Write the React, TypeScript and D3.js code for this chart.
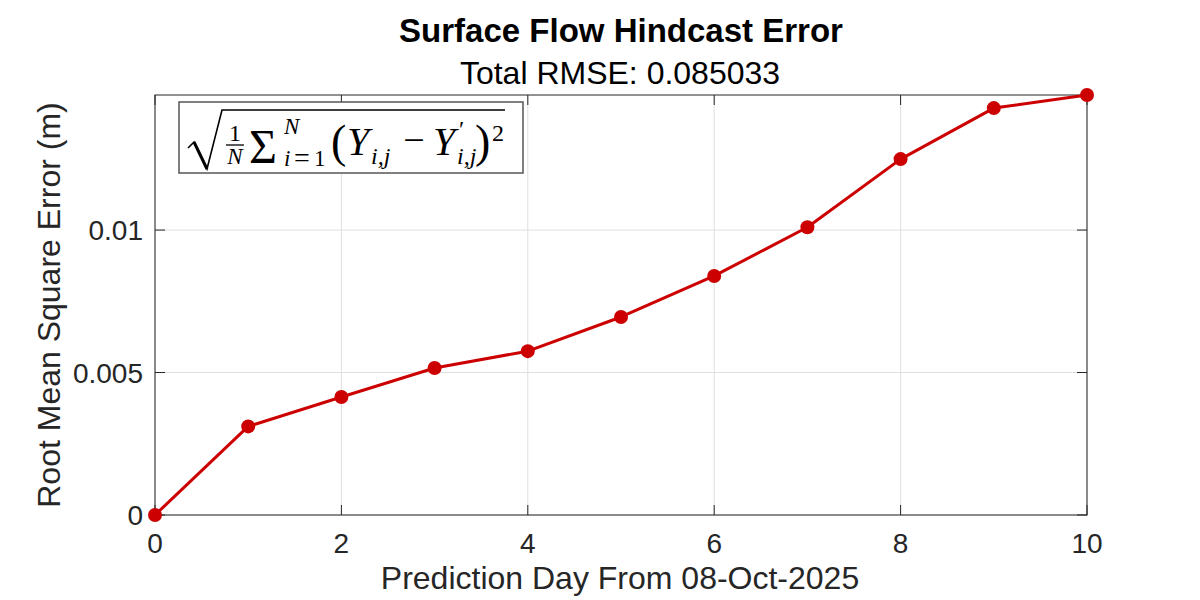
import React from "react";
import * as d3 from "d3";

const days = [0, 1, 2, 3, 4, 5, 6, 7, 8, 9, 10];
const rmse = [0, 0.00311, 0.00414, 0.00516, 0.00575, 0.00695, 0.00839, 0.0101, 0.01249, 0.01428, 0.01474];
const xTicks = [0, 2, 4, 6, 8, 10];
const yTicks = [0, 0.005, 0.01];
const yTickLabels = ["0", "0.005", "0.01"];
const titleText = "Surface Flow Hindcast Error";
const subtitleText = "Total RMSE: 0.085033";
const xLabelText = "Prediction Day From 08-Oct-2025";
const yLabelText = "Root Mean Square Error (m)";

const W = 1200, H = 600;
const L = 155, R = 1087, T = 95, B = 515;
const sans = "'Liberation Sans', Arial, Helvetica, sans-serif";
const serif = "'Liberation Serif', 'Times New Roman', serif";
const axisColor = "#262626";
const lineColor = "#cc0000";

export default function App() {
  const x = d3.scaleLinear().domain([0, 10]).range([L, R]);
  const y = d3.scaleLinear().domain([0, d3.max(rmse) as number]).range([B, T]);
  const line = d3.line<number>().x((_, i) => x(days[i])).y((d) => y(d));
  const pts = days.map((d, i) => [d, rmse[i]] as [number, number]);
  const tick = 10;

  return (
    <svg width={W} height={H} style={{ position: "absolute", left: 0, top: 0, background: "#fff" }}>
      <rect x={0} y={0} width={W} height={H} fill="#fff" />
      {/* grid */}
      {xTicks.map((t) => (
        <line key={"gx" + t} x1={x(t)} x2={x(t)} y1={T} y2={B} stroke="#dfdfdf" strokeWidth={1} />
      ))}
      {yTicks.map((t) => (
        <line key={"gy" + t} x1={L} x2={R} y1={y(t)} y2={y(t)} stroke="#dfdfdf" strokeWidth={1} />
      ))}
      {/* box */}
      <rect x={L} y={T} width={R - L} height={B - T} fill="none" stroke={axisColor} strokeWidth={1} />
      {xTicks.map((t) => (
        <g key={"tx" + t}>
          <line x1={x(t)} x2={x(t)} y1={B} y2={B - tick} stroke={axisColor} />
          <line x1={x(t)} x2={x(t)} y1={T} y2={T + tick} stroke={axisColor} />
          <text x={x(t)} y={553} textAnchor="middle" fontFamily={sans} fontSize={28} fill={axisColor}>{t}</text>
        </g>
      ))}
      {yTicks.map((t, i) => (
        <g key={"ty" + t}>
          <line x1={L} x2={L + tick} y1={y(t)} y2={y(t)} stroke={axisColor} />
          <line x1={R} x2={R - tick} y1={y(t)} y2={y(t)} stroke={axisColor} />
          <text x={143} y={y(t) + 10} textAnchor="end" fontFamily={sans} fontSize={28} fill={axisColor}>{yTickLabels[i]}</text>
        </g>
      ))}
      {/* data */}
      <path d={line(rmse) || ""} fill="none" stroke={lineColor} strokeWidth={3} strokeLinejoin="round" />
      {pts.map(([d, v]) => (
        <circle key={"p" + d} cx={x(d)} cy={y(v)} r={7} fill={lineColor} />
      ))}
      {/* legend */}
      <rect x={179} y={102} width={344} height={71} fill="#fff" stroke="#555" strokeWidth={1.5} />
      <g fill="#000" fontFamily={serif}>
        <path d="M188,148 L194,142 L207,169 L222,110 L505,110" fill="none" stroke="#000" strokeWidth={1.6} strokeLinejoin="miter" />
        <line x1={194} y1={142} x2={207} y2={169} stroke="#000" strokeWidth={3} />
        <text x={235} y={141} textAnchor="middle" fontSize={24}>1</text>
        <line x1={226} x2={244} y1={145} y2={145} stroke="#000" strokeWidth={1.3} />
        <text x={235} y={164} textAnchor="middle" fontSize={23} fontStyle="italic">N</text>
        <text x={249} y={163} fontSize={48}>Σ</text>
        <text x={284} y={134} fontSize={23} fontStyle="italic">N</text>
        <text x={284} y={166} fontSize={23} fontStyle="italic">i</text>
        <text x={294} y={167} fontSize={28}>=</text>
        <text x={314} y={166} fontSize={23}>1</text>
        <text x={331} y={157} fontSize={46}>(</text>
        <text x={347} y={155} fontSize={40} fontStyle="italic">Y</text>
        <text x={371} y={164} fontSize={24} fontStyle="italic">i,j</text>
        <text x={414} y={153} textAnchor="middle" fontSize={38}>−</text>
        <text x={433} y={155} fontSize={40} fontStyle="italic">Y</text>
        <text x={459} y={137} fontSize={24}>′</text>
        <text x={457} y={164} fontSize={24} fontStyle="italic">i,j</text>
        <text x={475} y={157} fontSize={46}>)</text>
        <text x={492} y={141} fontSize={24}>2</text>
      </g>
      {/* titles */}
      <text x={621} y={42} textAnchor="middle" fontFamily={sans} fontWeight="bold" fontSize={33} fill="#000">{titleText}</text>
      <text x={620} y={84} textAnchor="middle" fontFamily={sans} fontSize={32} fill="#000">{subtitleText}</text>
      <text x={620} y={589} textAnchor="middle" fontFamily={sans} fontSize={32} fill={axisColor}>{xLabelText}</text>
      <text transform={`translate(60,${(T + B) / 2}) rotate(-90)`} textAnchor="middle" fontFamily={sans} fontSize={32} fill={axisColor}>{yLabelText}</text>
    </svg>
  );
}
